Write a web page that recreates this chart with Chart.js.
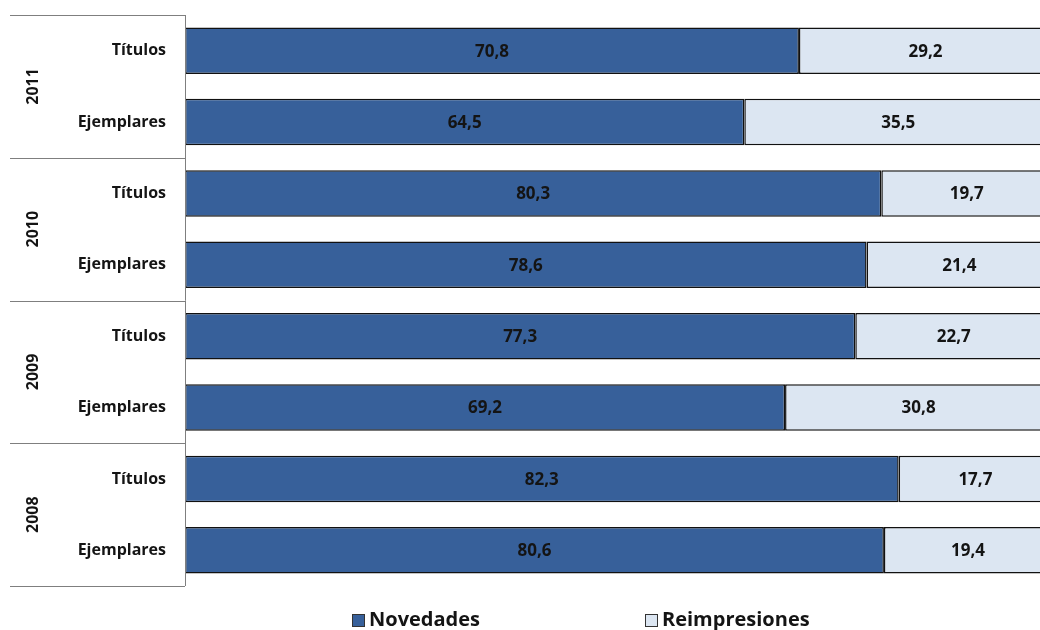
<!DOCTYPE html>
<html>

<head>
    <meta charset="utf-8">
    <title>Novedades y reimpresiones</title>
    <script src="https://cdn.jsdelivr.net/npm/chart.js"></script>
    <style>
        body { margin: 0; background: #fff; }
        #wrap { width: 1040px; height: 630px; position: relative; }
    </style>
</head>

<body>
    <div id="wrap"><canvas id="chart"></canvas></div>

    <script>
        // data
        const years = ['2011', '2010', '2009', '2008'];
        const categories = ['Títulos', 'Ejemplares', 'Títulos', 'Ejemplares', 'Títulos', 'Ejemplares', 'Títulos', 'Ejemplares'];
        const novedades = [70.8, 64.5, 80.3, 78.6, 77.3, 69.2, 82.3, 80.6];
        const reimpresiones = [29.2, 35.5, 19.7, 21.4, 22.7, 30.8, 17.7, 19.4];
        const seriesNames = ['Novedades', 'Reimpresiones'];

        const FONT = '"Open Sans", Lato, sans-serif';
        const DARK = '#37609a';
        const LIGHT = '#dce6f2';

        const fmt = v => v.toFixed(1).replace('.', ',');

        // value labels centred on each segment
        const valueLabels = {
            id: 'valueLabels',
            afterDatasetsDraw(chart) {
                const ctx = chart.ctx;
                ctx.save();
                ctx.font = 'bold 17px ' + FONT;
                ctx.fillStyle = '#141414';
                ctx.textAlign = 'center';
                ctx.textBaseline = 'middle';
                chart.data.datasets.forEach((ds, i) => {
                    chart.getDatasetMeta(i).data.forEach((bar, j) => {
                        ctx.fillText(fmt(ds.data[j]), (bar.x + bar.base) / 2, bar.y + 1);
                    });
                });
                ctx.restore();
            }
        };

        // year groups, frame lines and legend
        const groupAxis = {
            id: 'groupAxis',
            afterDraw(chart) {
                const ctx = chart.ctx;
                const area = chart.chartArea;
                const y = chart.scales.y;
                const step = y.getPixelForValue(1) - y.getPixelForValue(0);
                ctx.save();
                ctx.strokeStyle = '#7f7f7f';
                ctx.lineWidth = 1;
                for (let g = 0; g <= years.length; g++) {
                    const py = Math.round(y.getPixelForValue(g * 2) - step / 2) + 0.5;
                    ctx.beginPath();
                    ctx.moveTo(10, py);
                    ctx.lineTo(area.left, py);
                    ctx.stroke();
                }
                ctx.beginPath();
                ctx.moveTo(area.left + 0.5, area.top);
                ctx.lineTo(area.left + 0.5, area.bottom);
                ctx.stroke();

                ctx.font = 'bold 16px ' + FONT;
                ctx.fillStyle = '#141414';
                ctx.textAlign = 'center';
                ctx.textBaseline = 'middle';
                years.forEach((yr, g) => {
                    const cy = (y.getPixelForValue(g * 2) + y.getPixelForValue(g * 2 + 1)) / 2;
                    ctx.save();
                    ctx.translate(33, cy);
                    ctx.rotate(-Math.PI / 2);
                    ctx.fillText(yr, 0, 0);
                    ctx.restore();
                });

                // legend
                const items = [[seriesNames[0], DARK, 352], [seriesNames[1], LIGHT, 645]];
                ctx.font = 'bold 20px ' + FONT;
                ctx.textAlign = 'left';
                items.forEach(([name, col, x]) => {
                    ctx.fillStyle = col;
                    ctx.fillRect(x, 614, 13, 13);
                    ctx.strokeStyle = '#333';
                    ctx.strokeRect(x + 0.5, 614.5, 12, 12);
                    ctx.fillStyle = '#141414';
                    ctx.fillText(name, x + 17, 620);
                });
                ctx.restore();
            }
        };

        const chart = new Chart(document.getElementById('chart'), {
            type: 'bar',
            data: {
                labels: categories,
                datasets: [{
                    label: seriesNames[0],
                    data: novedades,
                    backgroundColor: DARK,
                    borderColor: '#111',
                    borderWidth: 1.5,
                    borderSkipped: false
                }, {
                    label: seriesNames[1],
                    data: reimpresiones,
                    backgroundColor: LIGHT,
                    borderColor: '#111',
                    borderWidth: 1.5,
                    borderSkipped: false
                }]
            },
            options: {
                indexAxis: 'y',
                responsive: true,
                maintainAspectRatio: false,
                animation: false,
                layout: { padding: { top: 15, bottom: 44, left: 0, right: 0 } },
                datasets: { bar: { categoryPercentage: 1, barPercentage: 0.65 } },
                scales: {
                    x: { stacked: true, min: 0, max: 98.6, display: false },
                    y: {
                        stacked: true,
                        grid: { display: false },
                        border: { display: false },
                        ticks: {
                            padding: 11,
                            color: '#141414',
                            font: { family: FONT, size: 16, weight: 'bold' }
                        },
                        afterFit(scale) {
                            scale.width = 185;
                            scale.paddingTop = 0;
                            scale.paddingBottom = 0;
                        }
                    }
                },
                plugins: {
                    legend: { display: false },
                    tooltip: { enabled: false }
                }
            },
            plugins: [valueLabels, groupAxis]
        });
    </script>
</body>

</html>
